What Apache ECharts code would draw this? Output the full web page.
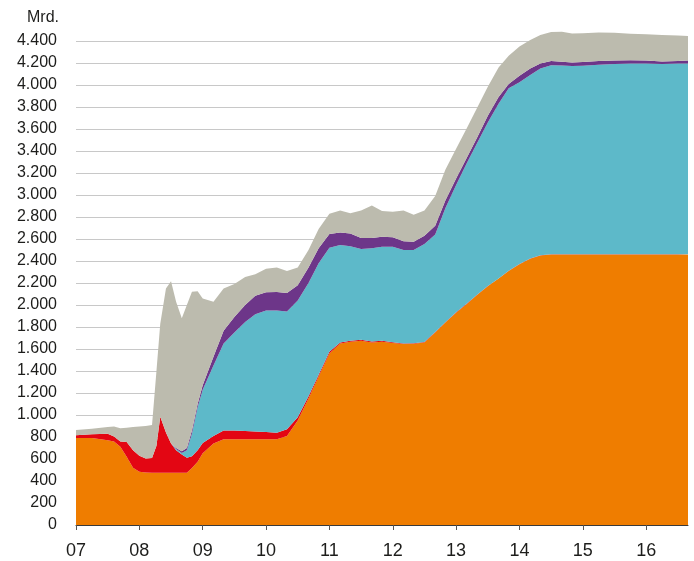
<!DOCTYPE html>
<html>
<head>
<meta charset="utf-8">
<script src="https://cdn.jsdelivr.net/npm/echarts@6/dist/echarts.min.js"></script>
<style>
html,body{margin:0;padding:0;background:#fff;}
#chart{width:694px;height:561px;}
</style>
</head>
<body>
<div id="chart"></div>
<script>
// decimal years
var dates = [2007.0,2007.25,2007.5,2007.6,2007.7,2007.8,2007.9,2008.0,2008.1,2008.2,2008.27,2008.33,2008.42,2008.5,2008.58,2008.67,2008.75,2008.83,2008.92,2009.0,2009.17,2009.33,2009.5,2009.67,2009.83,2010.0,2010.17,2010.33,2010.5,2010.67,2010.83,2011.0,2011.17,2011.33,2011.5,2011.67,2011.83,2012.0,2012.17,2012.33,2012.5,2012.67,2012.83,2013.0,2013.17,2013.33,2013.5,2013.67,2013.83,2014.0,2014.17,2014.33,2014.5,2014.67,2014.83,2015.0,2015.25,2015.5,2015.75,2016.0,2016.25,2016.5,2016.66];

var orangeVals = [790,790,770,760,712,620,520,485,478,475,475,475,475,475,475,475,475,518,576,652,742,779,780,780,780,780,780,809,950,1150,1350,1560,1650,1667,1676,1660,1667,1655,1645,1648,1658,1750,1840,1930,2010,2090,2170,2240,2310,2370,2420,2450,2460,2460,2460,2460,2460,2460,2460,2460,2460,2460,2460];
var redVals = [25,35,60,45,48,135,160,145,127,135,245,510,365,265,205,165,137,107,104,93,68,81,80,75,70,65,58,61,30,20,15,15,10,8,8,8,7,6,6,5,5,4,4,3,3,3,2,2,2,2,2,2,2,2,2,2,2,2,2,2,2,2,2];
var tealVals = [0,0,0,0,0,0,0,0,0,0,0,0,0,0,10,15,68,205,390,485,640,790,890,990,1065,1105,1112,1070,1060,1030,1015,945,885,860,826,847,856,869,849,847,892,886,1036,1157,1277,1377,1488,1588,1658,1653,1668,1698,1718,1716,1710,1713,1723,1728,1733,1733,1730,1733,1733];
var purpleVals = [0,0,0,0,0,0,0,0,0,0,0,0,0,0,10,15,20,30,30,40,80,115,140,155,170,165,168,168,140,140,135,125,115,115,100,95,90,85,80,75,75,80,70,60,50,50,60,60,40,60,60,45,38,34,33,33,33,32,31,27,22,23,27];
var grayVals = [49,50,60,90,120,130,210,265,295,300,680,845,1310,1475,1330,1210,1300,1260,1025,790,500,385,300,255,195,215,222,202,160,160,175,185,200,185,250,295,235,233,280,245,230,270,280,270,270,270,265,270,255,265,260,260,264,273,263,262,260,254,239,240,241,232,223];

var yearTicks = [2007,2008,2009,2010,2011,2012,2013,2014,2015,2016];

// value first so that the stack is computed on the value dimension
function pairs(vals){ return dates.map(function(t,i){ return [vals[i], t]; }); }
function fmtThousands(v){ return String(v).replace(/\B(?=(\d{3})+(?!\d))/g, '.'); }

var FONT = '"Liberation Sans", Arial, sans-serif';
var chart = echarts.init(document.getElementById('chart'), null, {renderer:'canvas'});

function areaSeries(name, vals, color){
  return {
    name: name, type: 'line', stack: 'total', data: pairs(vals),
    encode: {x: 1, y: 0},
    symbol: 'none', clip: false, smooth: false,
    lineStyle: {width: 0, color: color},
    areaStyle: {color: color, opacity: 1},
    itemStyle: {color: color},
    emphasis: {disabled: true}
  };
}

chart.setOption({
  animation: false,
  backgroundColor: '#ffffff',
  grid: {left: 76, right: 6, top: 41, bottom: 36, containLabel: false},
  graphic: [{
    type: 'text', left: 27, top: 10,
    style: {text: 'Mrd.', font: '16px ' + FONT, fill: '#1d1d1b'}
  }],
  xAxis: {
    type: 'value', min: 2007, max: 2016.66, interval: 1,
    splitLine: {show: false},
    axisLine: {show: true, onZero: false, lineStyle: {color: '#3a3a3a', width: 1}},
    axisTick: {show: true, length: 5, customValues: yearTicks, lineStyle: {color: '#555'}},
    axisLabel: {
      customValues: yearTicks, margin: 17,
      fontSize: 18, fontFamily: FONT, color: '#1d1d1b',
      formatter: function(v){ return String(Math.round(v)).slice(2); }
    }
  },
  yAxis: {
    type: 'value', min: 0, max: 4400, interval: 200,
    axisLine: {show: false}, axisTick: {show: false},
    splitLine: {show: true, lineStyle: {color: '#c8c8c8', width: 1}},
    axisLabel: {margin: 19, fontSize: 16, fontFamily: FONT, color: '#1d1d1b',
      formatter: function(v){ return fmtThousands(v); }}
  },
  series: [
    areaSeries('Orange', orangeVals, '#ef7d00'),
    areaSeries('Red', redVals, '#e30613'),
    areaSeries('Teal', tealVals, '#5db9c9'),
    areaSeries('Purple', purpleVals, '#6d3689'),
    areaSeries('Gray', grayVals, '#bcbbae')
  ]
});
</script>
</body>
</html>
